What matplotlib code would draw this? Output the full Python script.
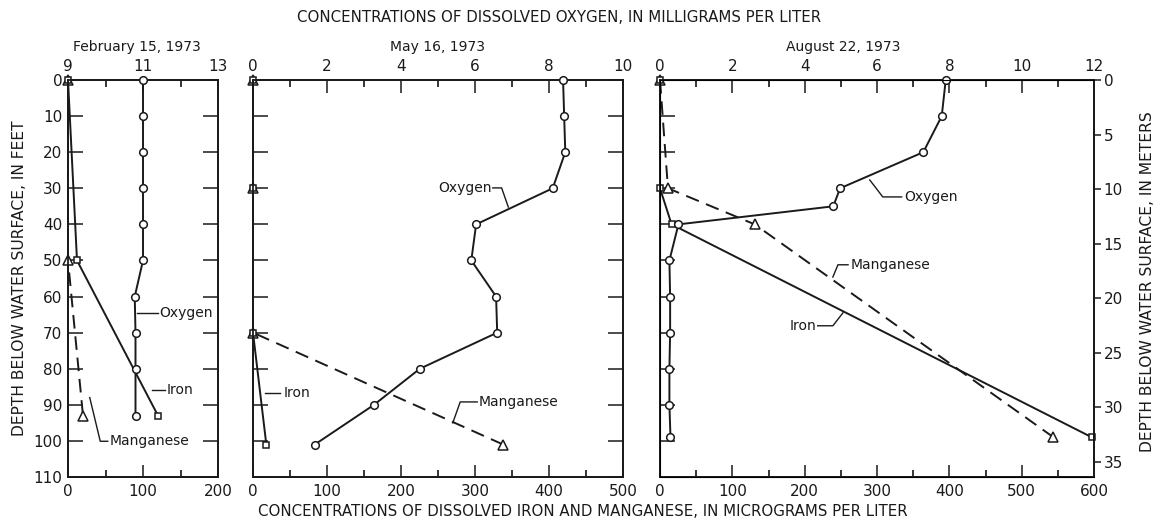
import matplotlib
matplotlib.use("Agg")
import matplotlib.pyplot as plt

plt.rcParams['font.family'] = ['DejaVu Sans']

# ---------------- data ----------------
feb_o2_depth = [0, 10, 20, 30, 40, 50, 60, 70, 80, 93]
feb_o2 = [11.0, 11.0, 11.0, 11.0, 11.0, 11.0, 10.78, 10.8, 10.8, 10.8]
feb_fe_depth = [0, 50, 93]
feb_fe = [0, 12, 120]
feb_mn_depth = [0, 50, 93]
feb_mn = [0, 0, 20]

may_o2_depth = [0, 10, 20, 30, 40, 50, 60, 70, 80, 90, 101]
may_o2 = [8.38, 8.41, 8.44, 8.1, 6.03, 5.9, 6.57, 6.6, 4.51, 3.27, 1.67]
may_fe_depth = [0, 30, 70, 101]
may_fe = [0, 0, 0, 18]
may_mn_depth = [0, 30, 70, 101]
may_mn = [0, 0, 0, 338]

aug_o2_depth = [0, 10, 20, 30, 35, 40, 50, 60, 70, 80, 90, 99]
aug_o2 = [7.9, 7.79, 7.28, 4.98, 4.79, 0.51, 0.26, 0.28, 0.28, 0.26, 0.26, 0.29]
aug_fe_depth = [0, 30, 40, 99]
aug_fe = [0, 0, 16, 597]
aug_mn_depth = [0, 30, 40, 99]
aug_mn = [0, 11, 131, 544]

titles = ["February 15, 1973", "May 16, 1973", "August 22, 1973"]
o2_lims = [(9, 13), (0, 10), (0, 12)]
o2_major = [[9, 11, 13], [0, 2, 4, 6, 8, 10], [0, 2, 4, 6, 8, 10, 12]]
o2_minor = [[10, 12], [1, 3, 5, 7, 9], [1, 3, 5, 7, 9, 11]]
fe_lims = [(0, 200), (0, 500), (0, 600)]
fe_major = [[0, 100, 200], [0, 100, 200, 300, 400, 500], [0, 100, 200, 300, 400, 500, 600]]
fe_minor = [[50, 150], [50, 150, 250, 350, 450], [50, 150, 250, 350, 450, 550]]
depth_ticks = list(range(0, 111, 10))
meter_ticks = [0, 5, 10, 15, 20, 25, 30, 35]

W, H = 1173, 527
fig = plt.figure(figsize=(W / 100, H / 100), dpi=100)

panels_px = [(68, 218), (253, 623), (660, 1094)]
top_px, bot_px = 80, 477

FS = 10
TFS = 10.8
ink = '#1a1a1a'
lw = 1.4

def leader(ax, xs, ys):
    ax.plot(xs, ys, color=ink, lw=1.0, clip_on=False, zorder=6)

axes = []
for i, (x0, x1) in enumerate(panels_px):
    ax = fig.add_axes([x0 / W, 1 - bot_px / H, (x1 - x0) / W, (bot_px - top_px) / H])
    axo = ax.twiny()
    ax.set_xlim(*fe_lims[i])
    ax.set_ylim(110, 0)
    axo.set_xlim(*o2_lims[i])
    ax.set_xticks(fe_major[i])
    ax.set_xticks(fe_minor[i], minor=True)
    axo.set_xticks(o2_major[i])
    axo.set_xticks(o2_minor[i], minor=True)
    ax.set_yticks(depth_ticks)
    ax.tick_params(axis='x', which='major', direction='in', length=9, width=1.1,
                   labelsize=FS + 1, pad=5, colors=ink)
    ax.tick_params(axis='x', which='minor', direction='in', length=5, width=1.1)
    axo.tick_params(axis='x', which='major', direction='in', length=9, width=1.1,
                    labelsize=FS + 1, pad=4, colors=ink)
    axo.tick_params(axis='x', which='minor', direction='in', length=5, width=1.1)
    ax.tick_params(axis='y', which='major', direction='in', length=11, width=1.1,
                   left=True, right=True, labelleft=(i == 0), labelsize=FS + 1, pad=4,
                   colors=ink)
    for a in (ax, axo):
        for s in a.spines.values():
            s.set_linewidth(1.3)
            s.set_color(ink)
    axes.append((ax, axo))

data = [
    (feb_o2_depth, feb_o2, feb_fe_depth, feb_fe, feb_mn_depth, feb_mn),
    (may_o2_depth, may_o2, may_fe_depth, may_fe, may_mn_depth, may_mn),
    (aug_o2_depth, aug_o2, aug_fe_depth, aug_fe, aug_mn_depth, aug_mn),
]

for i, (ax, axo) in enumerate(axes):
    od, o, fd, f, md, m = data[i]
    ln, = ax.plot(m, md, color=ink, lw=lw, marker='^', ms=7, mfc='white', mec=ink,
                  mew=1.1, clip_on=False, zorder=3)
    ln.set_dashes((7, 4))
    ax.plot(f, fd, color=ink, lw=lw, marker='s', ms=5, mfc='white', mec=ink,
            mew=1.1, clip_on=False, zorder=4)
    axo.plot(o, od, color=ink, lw=lw, marker='o', ms=5.5, mfc='white', mec=ink,
             mew=1.1, clip_on=False, zorder=5)

# ---------------- labels ----------------
ax, axo = axes[0]
leader(ax, [92, 120], [64.5, 64.5])
ax.text(121, 64.5, "Oxygen", fontsize=FS, va='center', ha='left', color=ink)
leader(ax, [112, 129], [86, 86])
ax.text(131, 86, "Iron", fontsize=FS, va='center', ha='left', color=ink)
leader(ax, [29, 43, 53], [88, 100.1, 100.1])
ax.text(55, 100.1, "Manganese", fontsize=FS, va='center', ha='left', color=ink)

ax, axo = axes[1]
leader(ax, [324, 336, 345], [29.9, 29.9, 35.2])
ax.text(322, 29.9, "Oxygen", fontsize=FS, va='center', ha='right', color=ink)
leader(ax, [16, 36], [86.7, 86.7])
ax.text(41, 86.7, "Iron", fontsize=FS, va='center', ha='left', color=ink)
leader(ax, [270, 280, 303], [95, 89.2, 89.2])
ax.text(305, 89.2, "Manganese", fontsize=FS, va='center', ha='left', color=ink)

ax, axo = axes[2]
leader(ax, [290, 308, 334], [27.7, 32.4, 32.4])
ax.text(337, 32.4, "Oxygen", fontsize=FS, va='center', ha='left', color=ink)
leader(ax, [239, 246, 260], [54.6, 51.2, 51.2])
ax.text(263, 51.2, "Manganese", fontsize=FS, va='center', ha='left', color=ink)
leader(ax, [218, 239, 253], [68.1, 68.1, 64.5])
ax.text(216, 68.1, "Iron", fontsize=FS, va='center', ha='right', color=ink)

# meters axis on right panel
axm = ax.twinx()
axm.set_ylim(36.4, 0)
axm.set_yticks(meter_ticks)
axm.tick_params(axis='y', direction='out', length=5, width=1.1, labelsize=FS + 1,
                pad=2, colors=ink)
axm.spines['right'].set_linewidth(1.3)
axm.spines['right'].set_color(ink)

# titles
fig.text(137 / W, 1 - 47 / H, titles[0], ha='center', va='center', fontsize=FS, color=ink)
fig.text(437 / W, 1 - 47 / H, titles[1], ha='center', va='center', fontsize=FS, color=ink)
fig.text(843 / W, 1 - 47 / H, titles[2], ha='center', va='center', fontsize=FS, color=ink)
fig.text(559 / W, 1 - 17 / H, "CONCENTRATIONS OF DISSOLVED OXYGEN, IN MILLIGRAMS PER LITER",
         ha='center', va='center', fontsize=TFS, color=ink)
fig.text(583 / W, 1 - 512 / H,
         "CONCENTRATIONS OF DISSOLVED IRON AND MANGANESE, IN MICROGRAMS PER LITER",
         ha='center', va='center', fontsize=TFS, color=ink)
fig.text(20 / W, 1 - 278 / H, "DEPTH BELOW WATER SURFACE, IN FEET", rotation=90,
         ha='center', va='center', fontsize=TFS + 0.4, color=ink)
fig.text(1148 / W, 1 - 282 / H, "DEPTH BELOW WATER SURFACE, IN METERS", rotation=90,
         ha='center', va='center', fontsize=TFS + 0.4, color=ink)

fig.savefig("out.png", dpi=100, facecolor='white')
